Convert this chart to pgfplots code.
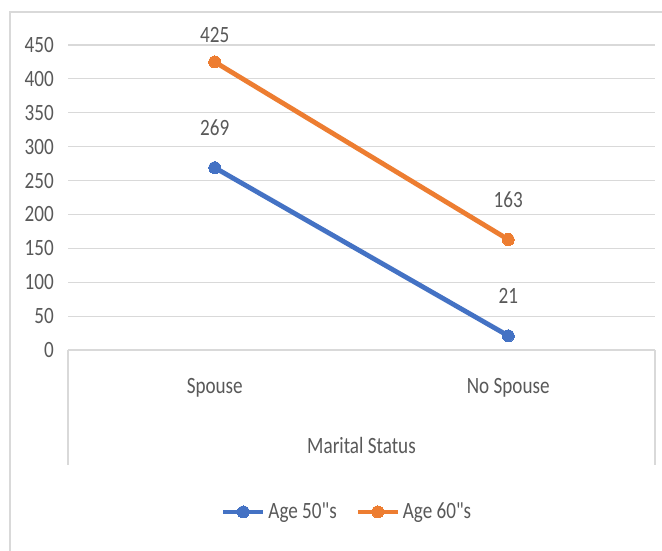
\documentclass[border=0pt]{standalone}
\usepackage{fontspec}
\setmainfont{Carlito}[FakeStretch=0.82, Ligatures=TeXOff]
\usepackage{pgfplots}
\pgfplotsset{compat=1.18}
\definecolor{cblue}{HTML}{4472C4}
\definecolor{corange}{HTML}{ED7D31}
\definecolor{cgrid}{HTML}{D9D9D9}
\definecolor{ctext}{HTML}{595959}
\newcommand{\cf}{\fontsize{17.5pt}{20pt}\selectfont}
\begin{document}
\begin{tikzpicture}
\useasboundingbox (0,0) rectangle (496.5pt,413.25pt);
\fill[white] (0,0) rectangle (496.5pt,413.25pt);
\draw[cgrid, line width=0.9pt] (7.5pt,0) -- (7.5pt,404.25pt) -- (496.5pt,404.25pt);
\begin{axis}[
  at={(51pt,150.75pt)}, anchor=south west,
  scale only axis, width=440.25pt, height=228.75pt,
  xmin=-0.5, xmax=1.5, ymin=0, ymax=450,
  xtick={0,1}, xticklabels={Spouse, No Spouse},
  ytick={0,50,...,450},
  ymajorgrids, grid style={cgrid, line width=0.9pt},
  separate axis lines,
  axis x line*=bottom, axis y line*=left,
  x axis line style={cgrid, line width=0.9pt},
  y axis line style={draw=none},
  major tick length=0pt,
  clip=false,
  /pgf/number format/assume math mode=true,
  ticklabel style={font=\cf, text=ctext},
  yticklabel style={inner sep=0pt, anchor=east, xshift=-10.5pt},
  xticklabel style={anchor=center, yshift=-28.5pt},
  xlabel={Marital Status},
  xlabel style={font=\cf, text=ctext, at={(axis description cs:0.5,0)}, anchor=center, yshift=-71.25pt},
  legend style={at={(axis description cs:0.476,-0.531)}, anchor=center, draw=none, fill=none,
    font=\cf, text=ctext, legend columns=2,
    /tikz/every even column/.append style={column sep=12pt}},
  legend image code/.code={\draw[#1,mark repeat=2,mark phase=2] plot coordinates {(0pt,0pt)(15pt,0pt)(30pt,0pt)};},
]
\addplot[cblue, line width=3.6pt, mark=*, mark size=4.5pt, mark options={line width=0pt}] coordinates {(0,269) (1,21)};
\addlegendentry{Age 50"s}
\addplot[corange, line width=3.6pt, mark=*, mark size=4.5pt, mark options={line width=0pt}] coordinates {(0,425) (1,163)};
\addlegendentry{Age 60"s}
\draw[cgrid, line width=0.9pt] (axis cs:-0.5,0) -- ([yshift=-86.25pt]axis cs:-0.5,0);
\draw[cgrid, line width=0.9pt] (axis cs:1.5,0) -- ([yshift=-86.25pt]axis cs:1.5,0);
\node[font=\cf, text=ctext] at (axis cs:0,425) [yshift=20pt] {425};
\node[font=\cf, text=ctext] at (axis cs:0,269) [yshift=30pt] {269};
\node[font=\cf, text=ctext] at (axis cs:1,163) [yshift=30pt] {163};
\node[font=\cf, text=ctext] at (axis cs:1,21) [yshift=30pt] {21};
\end{axis}
\end{tikzpicture}
\end{document}
